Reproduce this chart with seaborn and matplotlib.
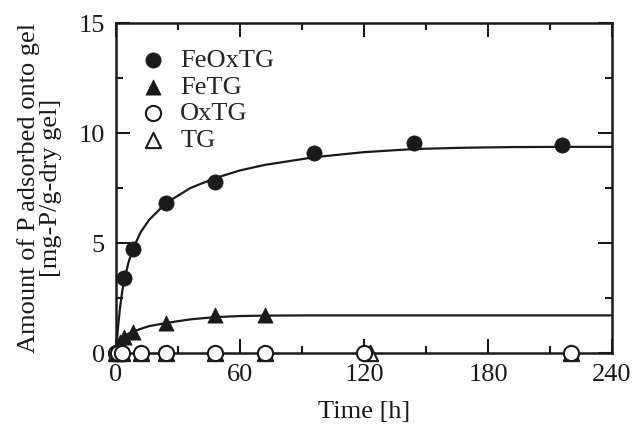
import numpy as np
import pandas as pd
import matplotlib
matplotlib.use("Agg")
import matplotlib.pyplot as plt
import seaborn as sns
from matplotlib.ticker import MultipleLocator

# ---- data ----
time_feox = [4, 8, 24, 48, 96, 144, 216]
val_feox = [3.43, 4.75, 6.82, 7.78, 9.07, 9.53, 9.45]

time_fe = [2, 4, 8, 24, 48, 72]
val_fe = [0.5, 0.74, 0.96, 1.35, 1.75, 1.75]

time_ox = [0, 1, 3, 12, 24, 48, 72, 120, 220]
val_ox = [0, 0, 0, 0, 0, 0, 0, 0, 0]

time_tg = [0, 1, 3, 12, 24, 48, 72, 123, 220]
val_tg = [0, 0, 0, 0, 0, 0, 0, 0, 0]

fit_t = [0, 1, 2, 3, 4, 6, 8, 12, 16, 24, 36, 48, 60, 72, 96, 120, 144, 168, 192, 216, 240]
fit_feox = [0, 1.2, 2.1, 2.8, 3.3, 4.1, 4.7, 5.5, 6.05, 6.8, 7.5, 7.95, 8.3, 8.55, 8.9,
            9.13, 9.27, 9.33, 9.36, 9.37, 9.37]
fit_fe = [0, 0.28, 0.5, 0.65, 0.75, 0.88, 0.97, 1.1, 1.22, 1.36, 1.53, 1.63, 1.68, 1.70,
          1.71, 1.71, 1.71, 1.71, 1.71, 1.71, 1.71]

labels = ["FeOxTG", "FeTG", "OxTG", "TG"]
x_ticks = [0, 60, 120, 180, 240]
y_ticks = [0, 5, 10, 15]

sns.set_style("ticks")
plt.rcParams["font.family"] = ["Liberation Serif", "DejaVu Serif"]

ink = "#1a1a1a"
fig = plt.figure(figsize=(6.33, 4.25), dpi=100)
ax = fig.add_axes([116 / 633, 1 - 353 / 425, 496 / 633, 330 / 425])

# fitted curves
sns.lineplot(x=fit_t, y=fit_feox, ax=ax, color=ink, linewidth=1.6, zorder=3)
sns.lineplot(x=fit_t, y=fit_fe, ax=ax, color=ink, linewidth=1.6, zorder=3)

ms = 120
ew = 1.5
sns.scatterplot(x=time_fe, y=val_fe, ax=ax, marker="^", s=ms, color=ink,
                edgecolor=ink, linewidth=0.5, label=labels[1], zorder=5, clip_on=False)
sns.scatterplot(x=time_feox, y=val_feox, ax=ax, marker="o", s=ms, color=ink,
                edgecolor=ink, linewidth=0.5, label=labels[0], zorder=5, clip_on=False)
sns.scatterplot(x=time_tg, y=val_tg, ax=ax, marker="^", s=ms, facecolor="white",
                edgecolor=ink, linewidth=ew, label=labels[3], zorder=6, clip_on=False)
sns.scatterplot(x=time_ox, y=val_ox, ax=ax, marker="o", s=ms, facecolor="white",
                edgecolor=ink, linewidth=ew, label=labels[2], zorder=7, clip_on=False)

ax.set_xlim(0, 240)
ax.set_ylim(0, 15)
ax.set_xticks(x_ticks)
ax.set_yticks(y_ticks)
ax.xaxis.set_minor_locator(MultipleLocator(30))
ax.yaxis.set_minor_locator(MultipleLocator(2.5))
ax.tick_params(which="both", direction="in", top=True, right=True, width=1.5,
               color=ink, labelsize=19, pad=8, labelcolor=ink)
ax.tick_params(which="major", length=10)
ax.tick_params(which="minor", length=5)
for sp in ax.spines.values():
    sp.set_linewidth(1.8)
    sp.set_color(ink)
    sp.set_visible(True)

ax.set_xlabel("Time [h]", fontsize=19, color=ink, labelpad=11)
ax.set_ylabel("Amount of P adsorbed onto gel\n[mg-P/g-dry gel]", fontsize=19,
              color=ink, labelpad=12, linespacing=1.0)

handles, labs = ax.get_legend_handles_labels()
order = [labs.index(l) for l in labels]
leg = ax.legend([handles[i] for i in order], [labs[i] for i in order],
                loc="upper left", bbox_to_anchor=(0.048, 0.923), frameon=False,
                fontsize=19, handlelength=1.0, handletextpad=0.53, labelspacing=0.12,
                borderaxespad=0, borderpad=0)

fig.savefig("out.png", dpi=100)
